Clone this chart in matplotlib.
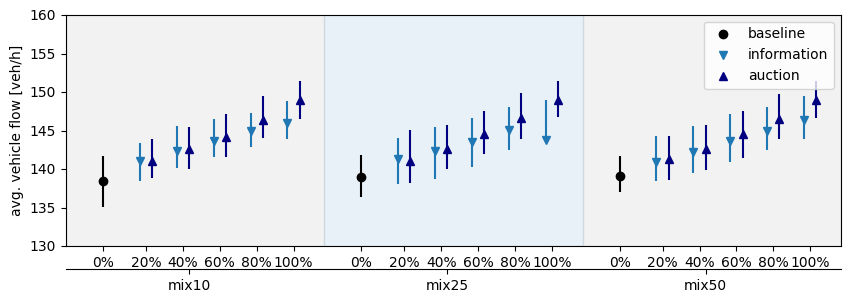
import matplotlib
matplotlib.use("Agg")
import matplotlib.pyplot as plt
import numpy as np

groups = ["mix10", "mix25", "mix50"]
levels = ["20%", "40%", "60%", "80%", "100%"]
tick_labels = ["0%"] + levels

# baseline: value, lower bound, upper bound per group
base_val = [138.4, 138.9, 139.05]
base_lo = [135.1, 136.4, 137.05]
base_hi = [141.7, 141.8, 141.7]

# information series (per group, per level)
info_val = [
    [141.0, 142.4, 143.7, 145.0, 146.0],
    [141.25, 142.35, 143.55, 145.05, 143.8],
    [140.9, 142.25, 143.7, 145.0, 146.35],
]
info_lo = [
    [138.45, 140.1, 141.55, 142.85, 143.9],
    [138.1, 138.7, 140.3, 142.5, 143.5],
    [138.5, 139.5, 140.95, 142.5, 143.95],
]
info_hi = [
    [143.4, 145.6, 146.5, 147.3, 148.85],
    [144.0, 145.45, 146.6, 148.05, 148.9],
    [144.3, 145.6, 147.15, 148.05, 149.5],
]

# auction series
auc_val = [
    [141.0, 142.65, 144.2, 146.4, 148.95],
    [141.1, 142.55, 144.55, 146.6, 148.9],
    [141.35, 142.65, 144.5, 146.45, 148.9],
]
auc_lo = [
    [138.85, 140.0, 141.55, 144.0, 146.5],
    [138.2, 140.05, 142.0, 143.95, 146.8],
    [138.55, 139.9, 141.45, 143.85, 146.65],
]
auc_hi = [
    [143.9, 145.45, 147.15, 149.5, 151.4],
    [145.05, 145.7, 147.55, 149.9, 151.4],
    [144.3, 145.7, 147.55, 149.7, 151.4],
]

fig = plt.figure(figsize=(8.5, 3.03), dpi=100)
ax = fig.add_axes([66/850, 1-246/303, (841-66)/850, (246-15)/303])

gap = 7
off = 1/3
ax.axvspan(-1, 6, color="gray", alpha=0.1)
ax.axvspan(6, 13, color="C0", alpha=0.1)
ax.axvspan(13, 20, color="gray", alpha=0.1)

tick_pos = []
for g in range(len(groups)):
    x0 = g * gap
    xb = x0
    ax.errorbar([xb], [base_val[g]],
                yerr=[[base_val[g]-base_lo[g]], [base_hi[g]-base_val[g]]],
                fmt="o", color="black", ms=6,
                label="baseline" if g == 0 else None)
    xi = x0 + np.arange(1, len(levels)+1)
    xa = xi + off
    iv = np.array(info_val[g]); il = np.array(info_lo[g]); ih = np.array(info_hi[g])
    av = np.array(auc_val[g]); al = np.array(auc_lo[g]); ah = np.array(auc_hi[g])
    ax.errorbar(xi, iv, yerr=[iv-il, ih-iv], fmt="v", color="#1f77b4", ms=6,
                label="information" if g == 0 else None)
    ax.errorbar(xa, av, yerr=[av-al, ah-av], fmt="^", color="navy", ms=6,
                label="auction" if g == 0 else None)
    tick_pos += [x0] + list(xi + off/2)

ax.set_xlim(-1, 20)
ax.set_ylim(130, 160)
ax.set_xticks(tick_pos)
ax.set_xticklabels(tick_labels * len(groups))
ax.set_ylabel("avg. vehicle flow [veh/h]")

handles, labels = ax.get_legend_handles_labels()
from matplotlib.lines import Line2D
proxies = [Line2D([], [], marker="o", color="black", ls="none"),
           Line2D([], [], marker="v", color="#1f77b4", ls="none"),
           Line2D([], [], marker="^", color="navy", ls="none")]
ax.legend(proxies, ["baseline", "information", "auction"], loc="upper right")

sec = ax.secondary_xaxis(location=-0.1)
sec.set_xticks([g * gap + 7/3 for g in range(len(groups))])
sec.set_xticklabels(groups)

fig.savefig("out.png", dpi=100)
